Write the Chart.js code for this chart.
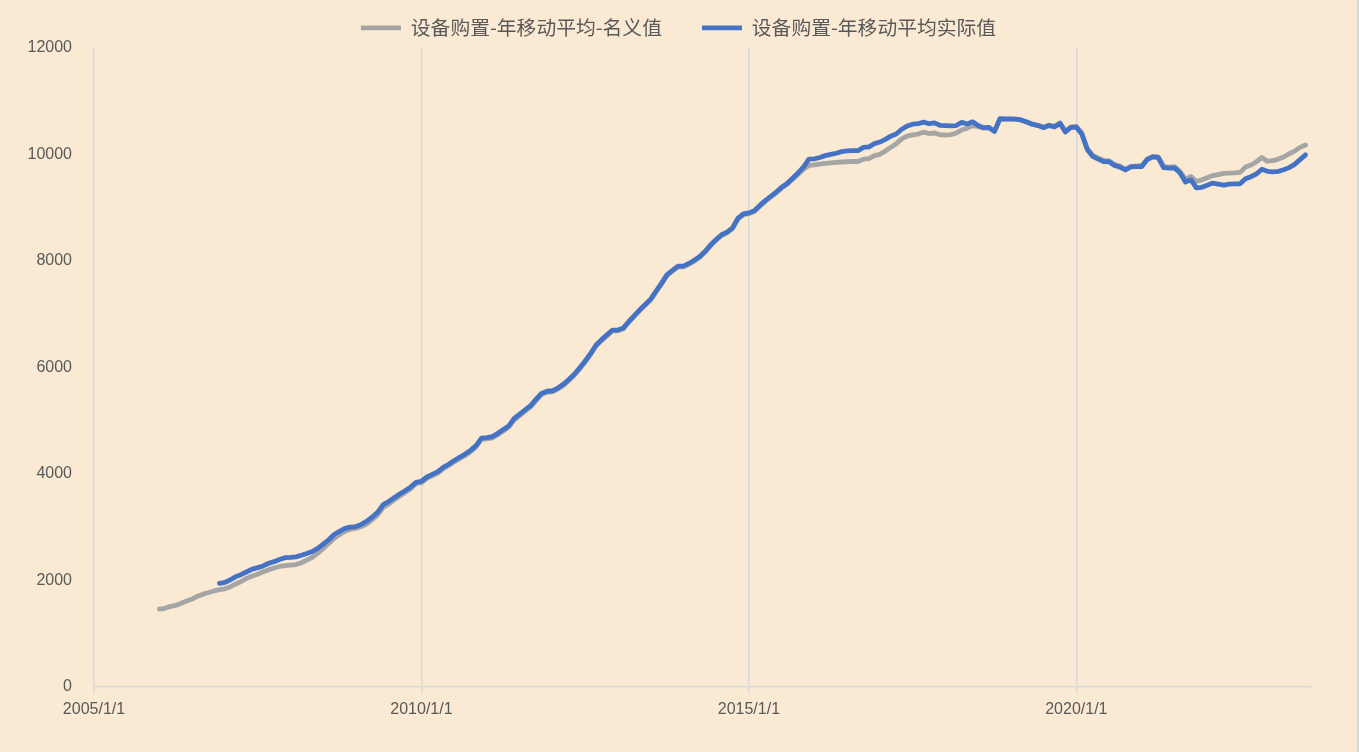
<!DOCTYPE html>
<html>
<head>
<meta charset="utf-8">
<script src="https://cdn.jsdelivr.net/npm/chart.js@4"></script>
<style>
  html, body { margin: 0; padding: 0; background: #FAEAD3; }
  #wrap { width: 1357px; height: 752px; border-right: 2px solid #d9d9d9; }
</style>
</head>
<body>
<div id="wrap"><canvas id="chart"></canvas></div>
<script>
// month index counted from 2005/1
const nominalStart = 12; // 2006/1
const realStart = 23;    // 2006/12
const xTickMonths = [0, 60, 120, 180];
const xTickLabels = ["2005/1/1", "2010/1/1", "2015/1/1", "2020/1/1"];
const seriesNames = ["设备购置-年移动平均-名义值", "设备购置-年移动平均实际值"];

// 设备购置-年移动平均-名义值, monthly from 2006/1
const nominal = [
  1460, 1475, 1510, 1530, 1570, 1610, 1650, 1700, 1740, 1770, 1800, 1825,
  1840, 1880, 1930, 1980, 2040, 2080, 2115, 2160, 2200, 2230, 2260, 2275,
  2285, 2295, 2330, 2380, 2430, 2510, 2600, 2690, 2790, 2860, 2920, 2960,
  2975, 3010, 3060, 3140, 3230, 3370, 3430, 3510, 3580, 3650, 3720, 3815,
  3835, 3915, 3965, 4015, 4095, 4155, 4225, 4285, 4345, 4415, 4505, 4645,
  4655, 4675, 4735, 4805, 4875, 5015, 5095, 5175, 5255, 5375, 5490, 5530,
  5540, 5590, 5660, 5750, 5850, 5970, 6100, 6240, 6400, 6500, 6590, 6685,
  6685, 6725, 6845, 6955, 7065, 7165, 7265, 7415, 7565, 7725, 7805, 7885,
  7885, 7935, 7995, 8065, 8165, 8285, 8385, 8475, 8525, 8605, 8785, 8865,
  8885, 8925, 9025, 9115, 9195, 9275, 9365, 9435, 9530, 9620, 9720, 9790,
  9800, 9815, 9830, 9840, 9850, 9855, 9860, 9865, 9865, 9910, 9920, 9975,
  10000, 10060, 10130, 10200, 10290, 10340, 10365, 10380, 10415, 10390, 10400, 10370,
  10360, 10370, 10400, 10460, 10490, 10540, 10520, 10490, 10495, 10430, 10660, 10655,
  10660, 10655, 10640, 10605, 10565, 10545, 10510, 10550, 10525, 10590, 10430, 10515,
  10525, 10400, 10110, 9985, 9930, 9885, 9880, 9810, 9780, 9720, 9775, 9780,
  9790, 9915, 9960, 9950, 9770, 9760, 9770, 9680, 9530, 9585, 9490, 9520,
  9560, 9600, 9620, 9640, 9645, 9650, 9660, 9760, 9800, 9860, 9940, 9870,
  9880, 9910, 9950, 10010, 10060, 10130, 10175
];

// 设备购置-年移动平均实际值, monthly from 2006/12
const real = [
  1944,
  1960, 2010, 2069, 2110, 2160, 2210, 2238, 2270, 2320, 2350, 2390, 2425,
  2430, 2440, 2470, 2505, 2540, 2600, 2680, 2760, 2860, 2920, 2975, 3000,
  3010, 3050, 3110, 3190, 3280, 3420, 3480, 3550, 3620, 3680, 3750, 3840,
  3860, 3940, 3990, 4040, 4120, 4180, 4250, 4310, 4370, 4440, 4530, 4670,
  4680, 4700, 4760, 4830, 4900, 5040, 5120, 5200, 5280, 5400, 5510, 5550,
  5560, 5610, 5680, 5770, 5870, 5990, 6120, 6260, 6420, 6520, 6610, 6700,
  6700, 6740, 6860, 6970, 7080, 7180, 7280, 7430, 7580, 7740, 7820, 7900,
  7900, 7950, 8010, 8080, 8180, 8300, 8400, 8490, 8540, 8620, 8800, 8880,
  8900, 8940, 9040, 9130, 9210, 9290, 9380, 9450, 9550, 9650, 9760, 9910,
  9915, 9940, 9975, 10000, 10020, 10050, 10065, 10070, 10070, 10130, 10140, 10200,
  10230, 10280, 10340, 10380, 10470, 10530, 10565, 10575, 10605, 10575, 10590, 10545,
  10540, 10535, 10540, 10600, 10570, 10610, 10540, 10500, 10505, 10430, 10670, 10665,
  10665, 10660, 10640, 10600, 10560, 10540, 10500, 10540, 10515, 10580, 10420, 10505,
  10510, 10380, 10090, 9960, 9910, 9865, 9860, 9790, 9760, 9705, 9765, 9770,
  9770, 9900, 9950, 9940, 9750, 9740, 9745, 9650, 9480, 9520, 9370, 9380,
  9420, 9460, 9440, 9420, 9440, 9445, 9445, 9540, 9580, 9630, 9720, 9680,
  9670, 9680, 9710, 9750, 9810, 9900, 9990
];

const toPoints = (arr, start) => arr.map((v, i) => ({ x: start + i, y: v }));
const textColor = "#595959";
const gridColor = "#d9d9d9";
const tickFont = { family: "'Liberation Sans', sans-serif", size: 16 };

const config = {
  type: "line",
  data: {
    datasets: [
      {
        label: seriesNames[0],
        data: toPoints(nominal, nominalStart),
        borderColor: "#A5A5A5",
        backgroundColor: "#A5A5A5",
        borderWidth: 4.8,
        borderCapStyle: "round",
        borderJoinStyle: "round",
        pointRadius: 0,
        order: 1,
      },
      {
        label: seriesNames[1],
        data: toPoints(real, realStart),
        borderColor: "#4472C4",
        backgroundColor: "#4472C4",
        borderWidth: 4.8,
        borderCapStyle: "round",
        borderJoinStyle: "round",
        pointRadius: 0,
        order: 0,
      },
    ],
  },
  options: {
    responsive: false,
    animation: false,
    layout: { padding: { top: -22, right: 10, left: 10, bottom: 27 } },
    plugins: {
      tooltip: { enabled: false },
      legend: {
        position: "top",
        labels: {
          usePointStyle: true,
          pointStyle: "line",
          pointStyleWidth: 40,
          padding: 40,
          color: textColor,
          font: { family: "'Noto Sans CJK SC', sans-serif", size: 19.8 },
          sort: (a, b) => a.datasetIndex - b.datasetIndex,
        },
      },
    },
    scales: {
      x: {
        type: "linear",
        min: 0,
        max: 223,
        afterBuildTicks: (scale) => {
          scale.ticks = xTickMonths.map((v) => ({ value: v }));
        },
        grid: { color: gridColor, lineWidth: 1.5, tickLength: 7 },
        border: { color: gridColor, width: 1.5 },
        ticks: {
          color: textColor,
          font: tickFont,
          padding: 6,
          maxRotation: 0,
          callback: (v) => xTickLabels[xTickMonths.indexOf(v)],
        },
      },
      y: {
        min: 0,
        max: 12000,
        afterFit: (scale) => { scale.width = 84; },
        grid: { display: false, drawTicks: false },
        border: { display: false },
        ticks: {
          stepSize: 2000,
          color: textColor,
          font: tickFont,
          padding: 22,
          callback: (v) => String(v),
        },
      },
      // empty right-hand axis, only keeps space right of the plot
      yRight: {
        position: "right",
        afterFit: (scale) => { scale.width = 36; },
        grid: { display: false, drawTicks: false },
        border: { display: false },
        ticks: { display: false },
      },
    },
  },
};

const canvas = document.getElementById("chart");
canvas.width = 1357;
canvas.height = 752;
const myChart = new Chart(canvas, config);
</script>
</body>
</html>
